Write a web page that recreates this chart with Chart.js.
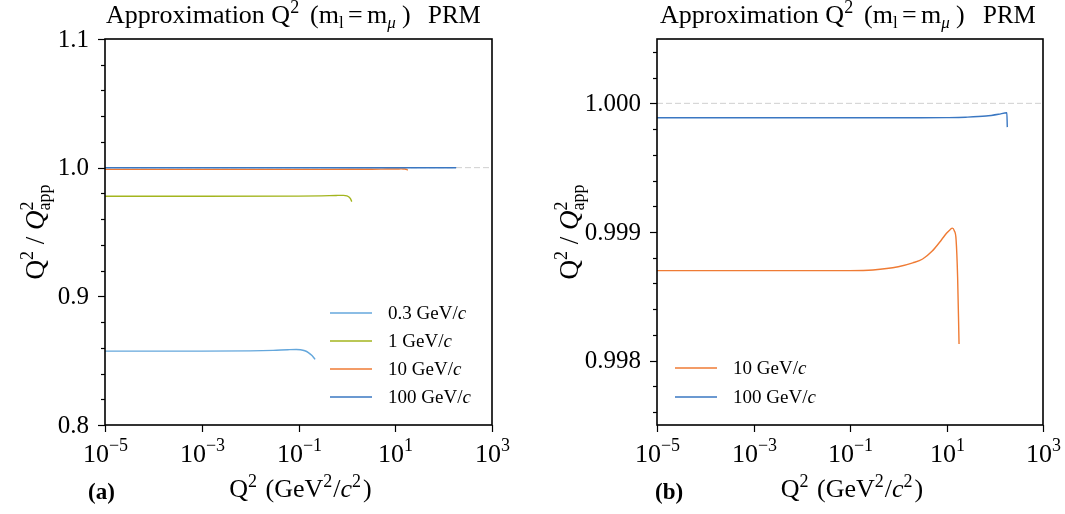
<!DOCTYPE html>
<html>
<head>
<meta charset="utf-8">
<script src="https://cdn.jsdelivr.net/npm/chart.js@4.4.1/dist/chart.umd.min.js"></script>
<style>
  html, body { margin: 0; padding: 0; background: #fff; }
  #wrap { position: relative; width: 1065px; height: 514px; }
  canvas { position: absolute; top: 0; }
  #left { left: 0; }
  #right { left: 532px; }
</style>
</head>
<body>
<div id="wrap">
  <canvas id="left" width="532" height="514"></canvas>
  <canvas id="right" width="533" height="514"></canvas>
</div>
<script>
// tick positions
const xTickExponents = [-5, -3, -1, 1, 3];
const leftYMajor = [0.8, 0.9, 1.0, 1.1];
const leftYMinorStep = 0.02;
const rightYMajor = [0.998, 0.999, 1.000];
const rightYMinorStep = 0.0002;

// 0.3 GeV/c
const q2_p03 = [1e-5, 1e-3, 1e-2, 0.03, 0.06, 0.09, 0.11, 0.135, 0.16, 0.19, 0.22];
const ratio_p03 = [0.8574, 0.8574, 0.8576, 0.8580, 0.8585, 0.8587, 0.8585, 0.8577, 0.8563, 0.8540, 0.8510];
// 1 GeV/c
const q2_p1 = [1e-5, 1e-3, 1e-1, 0.3, 0.6, 0.85, 1.0, 1.12, 1.2, 1.26];
const ratio_p1 = [0.9778, 0.9778, 0.9779, 0.9781, 0.9784, 0.9785, 0.9781, 0.9770, 0.9755, 0.9736];
// 10 GeV/c
const q2_p10 = [1e-5, 1e-3, 0.1, 0.3, 1, 2, 3.2, 5, 7.9, 10, 12, 13.2, 14.5, 15.8, 17, 18.2];
const ratio_p10 = [0.99870, 0.99870, 0.99870, 0.998705, 0.99873, 0.99876, 0.99879, 0.99885, 0.99894, 0.99899, 0.99902, 0.99903, 0.99901, 0.99894, 0.99865, 0.99813];
// 100 GeV/c
const q2_p100 = [1e-5, 1e-1, 3, 10, 25, 66, 120, 178, 182];
const ratio_p100 = [0.999888, 0.999888, 0.999888, 0.999889, 0.999892, 0.999901, 0.999915, 0.999927, 0.999815];

const COLORS = { p03: '#64a7dc', p1: '#a3b51e', p10: '#ef7b34', p100: '#3a77c2' };
const SERIF = '"Liberation Serif", "DejaVu Serif", serif';

function font(p) {
  return (p.it ? 'italic ' : '') + (p.b ? 'bold ' : '') + p.s + 'px ' + SERIF;
}

// draw a list of text pieces (sup/sub via dy) on one baseline
function drawRich(ctx, parts, x, y, align) {
  let total = 0;
  parts.forEach(p => {
    ctx.font = font(p);
    p.w = ctx.measureText(p.t).width;
    total += (p.adv === 0 ? 0 : p.w) + (p.gap || 0);
  });
  let cx = align === 'center' ? x - total / 2 : align === 'right' ? x - total : x;
  ctx.textAlign = 'left';
  ctx.textBaseline = 'alphabetic';
  parts.forEach(p => {
    ctx.font = font(p);
    if (p.dx !== undefined) cx = x + p.dx;
    ctx.fillText(p.t, cx, y + (p.dy || 0));
    if (p.adv !== 0) cx += p.w + (p.gap || 0);
  });
}

function pts(xs, ys) {
  return xs.map((x, i) => ({ x: x, y: ys[i] }));
}

function lineSet(label, xs, ys, color, order) {
  return {
    label: label, data: pts(xs, ys), borderColor: color, borderWidth: 1.4,
    pointRadius: 0, fill: false, cubicInterpolationMode: 'monotone', order: order
  };
}

function refLine() {
  return {
    label: 'ref', data: pts([1e-5, 1e3], [1, 1]), borderColor: '#cfcfcf',
    borderWidth: 1, borderDash: [6, 3], pointRadius: 0, order: 10
  };
}

// title pieces; dx = fixed offset from the title start
const titleParts = [
  { t: 'Approximation Q', s: 26, dx: 0 }, { t: '2', s: 18, dy: -10 }, { t: '(m', s: 26, dx: 204 },
  { t: 'l', s: 17, dy: 5 }, { t: '=', s: 26, dx: 242 }, { t: 'm', s: 26, dx: 261 },
  { t: 'μ', s: 17, dy: 5, it: true }, { t: ')', s: 26, dx: 296 }
];
const xTitleParts = [
  { t: 'Q', s: 26 }, { t: '2', s: 18, dy: -10, gap: 2 }, { t: ' (GeV', s: 26 }, { t: '2', s: 18, dy: -10, gap: 1 },
  { t: '/', s: 26 }, { t: 'c', s: 26, it: true }, { t: '2', s: 18, dy: -10, gap: 2 }, { t: ')', s: 26 }
];
const yTitleParts = [
  { t: 'Q', s: 27 }, { t: '2', s: 18, dy: -11 }, { t: ' / ', s: 27 }, { t: 'Q', s: 27, it: true },
  { t: '2', s: 18, dy: -11, adv: 0 }, { t: 'app', s: 18, dy: 6 }
];

function panelPlugin(cfg) {
  return {
    id: 'panel',
    afterDraw(chart) {
      const ctx = chart.ctx;
      const a = chart.chartArea;
      const xs = chart.scales.x, ys = chart.scales.y;
      ctx.save();
      ctx.fillStyle = '#000';
      ctx.strokeStyle = '#000';

      // frame
      ctx.lineWidth = 1.6;
      ctx.strokeRect(a.left, a.top, a.right - a.left, a.bottom - a.top);

      // y ticks
      ctx.lineWidth = 1.2;
      for (let v = Math.ceil(ys.min / cfg.yMinor - 1e-6) * cfg.yMinor; v <= ys.max + 1e-9; v += cfg.yMinor) {
        const py = Math.round(ys.getPixelForValue(v)) + 0.5;
        const isMajor = cfg.yMajor.some(m => Math.abs(m - v) < cfg.yMinor / 10);
        const len = isMajor ? 7 : 4;
        ctx.beginPath();
        ctx.moveTo(a.left - len, py);
        ctx.lineTo(a.left, py);
        ctx.stroke();
      }
      cfg.yMajor.forEach(m => {
        const py = ys.getPixelForValue(m);
        ctx.font = '25px ' + SERIF;
        ctx.textAlign = 'right';
        ctx.textBaseline = 'middle';
        ctx.fillText(m.toFixed(cfg.yDigits), a.left - 16, py + 1);
      });

      // x ticks
      xTickExponents.forEach(e => {
        const px = Math.round(xs.getPixelForValue(Math.pow(10, e))) + 0.5;
        ctx.beginPath();
        ctx.moveTo(px, a.bottom);
        ctx.lineTo(px, a.bottom + 7);
        ctx.stroke();
        const sup = e < 0 ? '\u2212' + Math.abs(e) : String(e);
        drawRich(ctx, [{ t: '10', s: 26 }, { t: sup, s: 18, dy: -11 }], px, a.bottom + 37, 'center');
      });

      // titles
      drawRich(ctx, titleParts, cfg.titleX, 23, 'left');
      ctx.font = '25px ' + SERIF;
      ctx.textAlign = 'left';
      ctx.fillText('PRM', cfg.prmX, 23);
      drawRich(ctx, xTitleParts, (a.left + a.right) / 2 + 2, 497, 'center');
      ctx.save();
      ctx.translate(cfg.yTitleX, (a.top + a.bottom) / 2);
      ctx.rotate(-Math.PI / 2);
      drawRich(ctx, yTitleParts, 0, 0, 'center');
      ctx.restore();
      drawRich(ctx, [{ t: cfg.tag, s: 23, b: true }], cfg.tagX, 499, 'left');

      // legend
      cfg.legend.forEach((item, i) => {
        const y = cfg.legendY + i * cfg.legendStep;
        ctx.strokeStyle = item.color;
        ctx.lineWidth = 1.5;
        ctx.beginPath();
        ctx.moveTo(cfg.legendX, y);
        ctx.lineTo(cfg.legendX + 42, y);
        ctx.stroke();
        drawRich(ctx, [{ t: item.text, s: 19 }, { t: 'c', s: 19, it: true }], cfg.legendX + 58, y + 6, 'left');
      });
      ctx.restore();
    }
  };
}

function makeChart(id, datasets, yMin, yMax, pad, cfg) {
  return new Chart(document.getElementById(id), {
    type: 'line',
    data: { datasets: datasets },
    options: {
      responsive: false,
      animation: false,
      devicePixelRatio: 1,
      layout: { padding: pad },
      plugins: { legend: { display: false }, tooltip: { enabled: false } },
      scales: {
        x: { type: 'logarithmic', min: 1e-5, max: 1e3, display: false },
        y: { type: 'linear', min: yMin, max: yMax, display: false }
      }
    },
    plugins: [panelPlugin(cfg)]
  });
}

makeChart('left', [
  lineSet('100 GeV/c', q2_p100, ratio_p100, COLORS.p100, 1),
  lineSet('10 GeV/c', q2_p10, ratio_p10, COLORS.p10, 2),
  lineSet('1 GeV/c', q2_p1, ratio_p1, COLORS.p1, 3),
  lineSet('0.3 GeV/c', q2_p03, ratio_p03, COLORS.p03, 4),
  refLine()
], 0.8, 1.1, { left: 105, right: 40, top: 39, bottom: 89 }, {
  yMajor: leftYMajor, yMinor: leftYMinorStep, yDigits: 1,
  titleX: 106, prmX: 428, yTitleX: 44, tag: '(a)', tagX: 88,
  legendX: 330, legendY: 313, legendStep: 28,
  legend: [
    { text: '0.3 GeV/', color: COLORS.p03 },
    { text: '1 GeV/', color: COLORS.p1 },
    { text: '10 GeV/', color: COLORS.p10 },
    { text: '100 GeV/', color: COLORS.p100 }
  ]
});

makeChart('right', [
  lineSet('100 GeV/c', q2_p100, ratio_p100, COLORS.p100, 1),
  lineSet('10 GeV/c', q2_p10, ratio_p10, COLORS.p10, 2),
  refLine()
], 0.9975, 1.0005, { left: 125, right: 22, top: 39, bottom: 89 }, {
  yMajor: rightYMajor, yMinor: rightYMinorStep, yDigits: 3,
  titleX: 128, prmX: 451, yTitleX: 46, tag: '(b)', tagX: 123,
  legendX: 143, legendY: 368, legendStep: 29,
  legend: [
    { text: '10 GeV/', color: COLORS.p10 },
    { text: '100 GeV/', color: COLORS.p100 }
  ]
});
</script>
</body>
</html>
